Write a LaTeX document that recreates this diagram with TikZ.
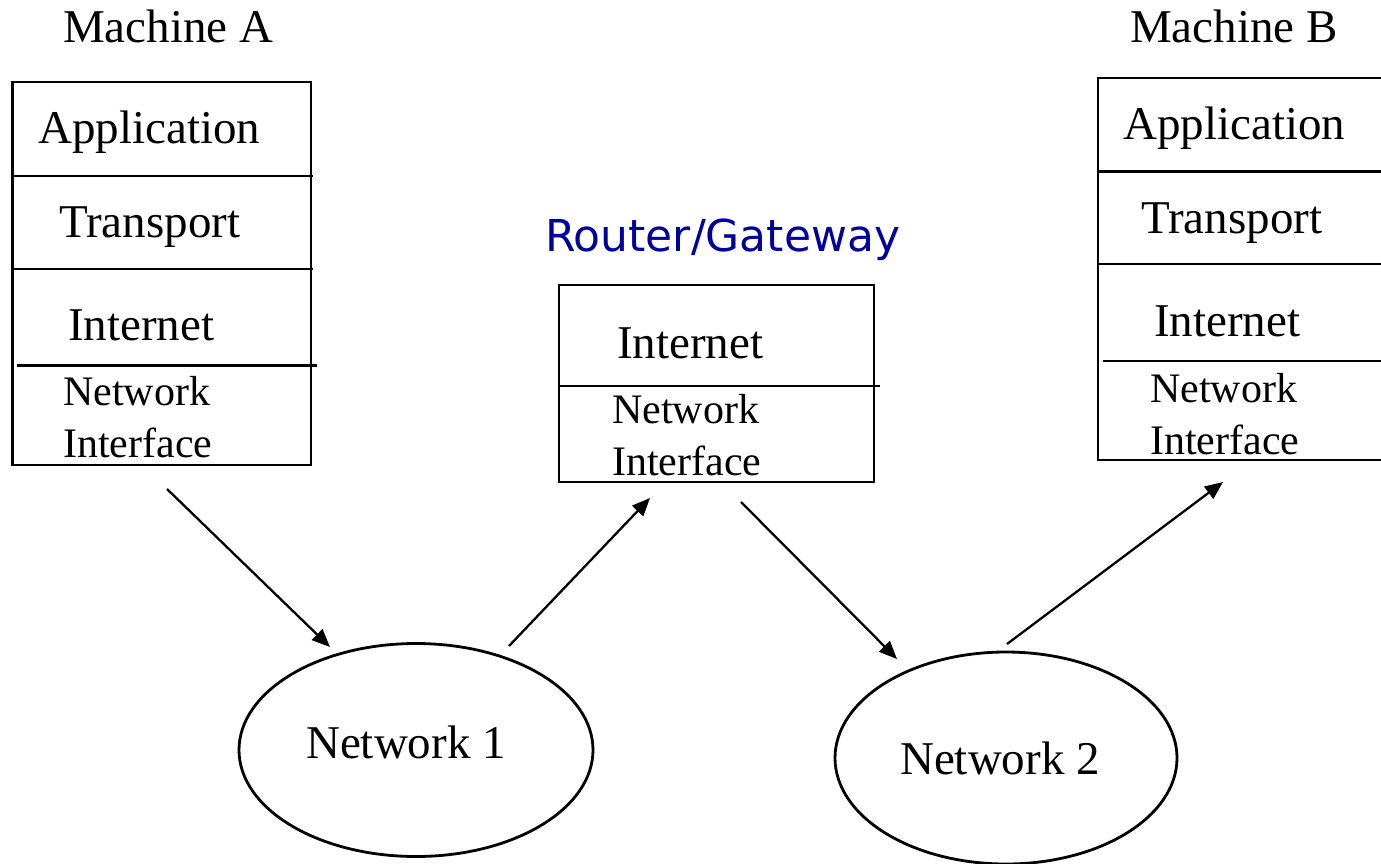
\documentclass[tikz,border=0pt]{standalone}
\usepackage{fontspec}
\setmainfont{Liberation Serif}
\newfontfamily\routerfont{DejaVu Sans}
\usetikzlibrary{arrows.meta,shapes.geometric}
\definecolor{routerblue}{RGB}{0,0,160}
\begin{document}
\begin{tikzpicture}[x=1pt,y=-1pt,
  big/.style={anchor=base west,inner sep=0pt,font=\fontsize{47}{52}\selectfont},
  small/.style={anchor=base west,inner sep=0pt,font=\fontsize{42}{52}\selectfont},
  stackbox/.style={draw,line width=2.8pt,inner sep=0pt},
  divider/.style={line width=2.8pt},
  cloud/.style={draw,ellipse,line width=2.8pt,inner sep=0pt},
  flow/.style={line width=2.3pt,-{Triangle[length=18pt,width=15pt]}}]
\useasboundingbox (0,0) rectangle (1381,863);
\fill[white] (0,0) rectangle (1381,863);

% Machine A
\node[big] (lblA) at (63,42) {Machine A};
\node[stackbox,minimum width=298.5pt,minimum height=383pt] (boxA) at (161.75,273.5) {};
\draw[divider] (12.5,176) -- (313,176);
\draw[divider] (12.5,269) -- (313,269);
\draw[divider] (17,365.5) -- (317,365.5);
\node[big] (appA) at (38,143) {Application};
\node[big] (trA) at (59,237) {Transport};
\node[big] (inA) at (68,340) {Internet};
\node[small] (netA) at (63,405) {Network};
\node[small] (ifA) at (63,457) {Interface};

% Machine B
\node[big] (lblB) at (1130,42) {Machine B};
\node[stackbox,minimum width=292pt,minimum height=382pt] (boxB) at (1244,269) {};
\draw[divider] (1098,171.5) -- (1390,171.5);
\draw[divider] (1098,264) -- (1390,264);
\draw[divider] (1103,361) -- (1390,361);
\node[big] (appB) at (1123,139) {Application};
\node[big] (trB) at (1141,233) {Transport};
\node[big] (inB) at (1154,336) {Internet};
\node[small] (netB) at (1150,402) {Network};
\node[small] (ifB) at (1150,454) {Interface};

% Router
\node[anchor=base west,inner sep=0pt,text=routerblue,font=\routerfont\fontsize{44}{50}\selectfont] (lblR) at (545,251) {Router/Gateway};
\node[stackbox,minimum width=315pt,minimum height=197pt] (boxR) at (716.5,383.5) {};
\draw[divider] (559,386) -- (880,386);
\node[big] (inR) at (617,358) {Internet};
\node[small] (netR) at (612,423) {Network};
\node[small] (ifR) at (612,475) {Interface};

% Networks
\node[cloud,minimum width=354pt,minimum height=213pt] (n1) at (416,750) {};
\node[big,anchor=base] (n1t) at (406,758) {Network 1};
\node[cloud,minimum width=342pt,minimum height=212pt] (n2) at (1006,758) {};
\node[big,anchor=base] (n2t) at (1000,774) {Network 2};

% arrow end points
\coordinate (a1s) at (167,489);
\coordinate (a1e) at (330,647);
\coordinate (a2s) at (509,646);
\coordinate (a2e) at (650,498);
\coordinate (a3s) at (741,502);
\coordinate (a3e) at (897,659);
\coordinate (a4s) at (1007,644);
\coordinate (a4e) at (1223,482);
\draw[flow] (a1s) -- (a1e);
\draw[flow] (a2s) -- (a2e);
\draw[flow] (a3s) -- (a3e);
\draw[flow] (a4s) -- (a4e);
\end{tikzpicture}
\end{document}
